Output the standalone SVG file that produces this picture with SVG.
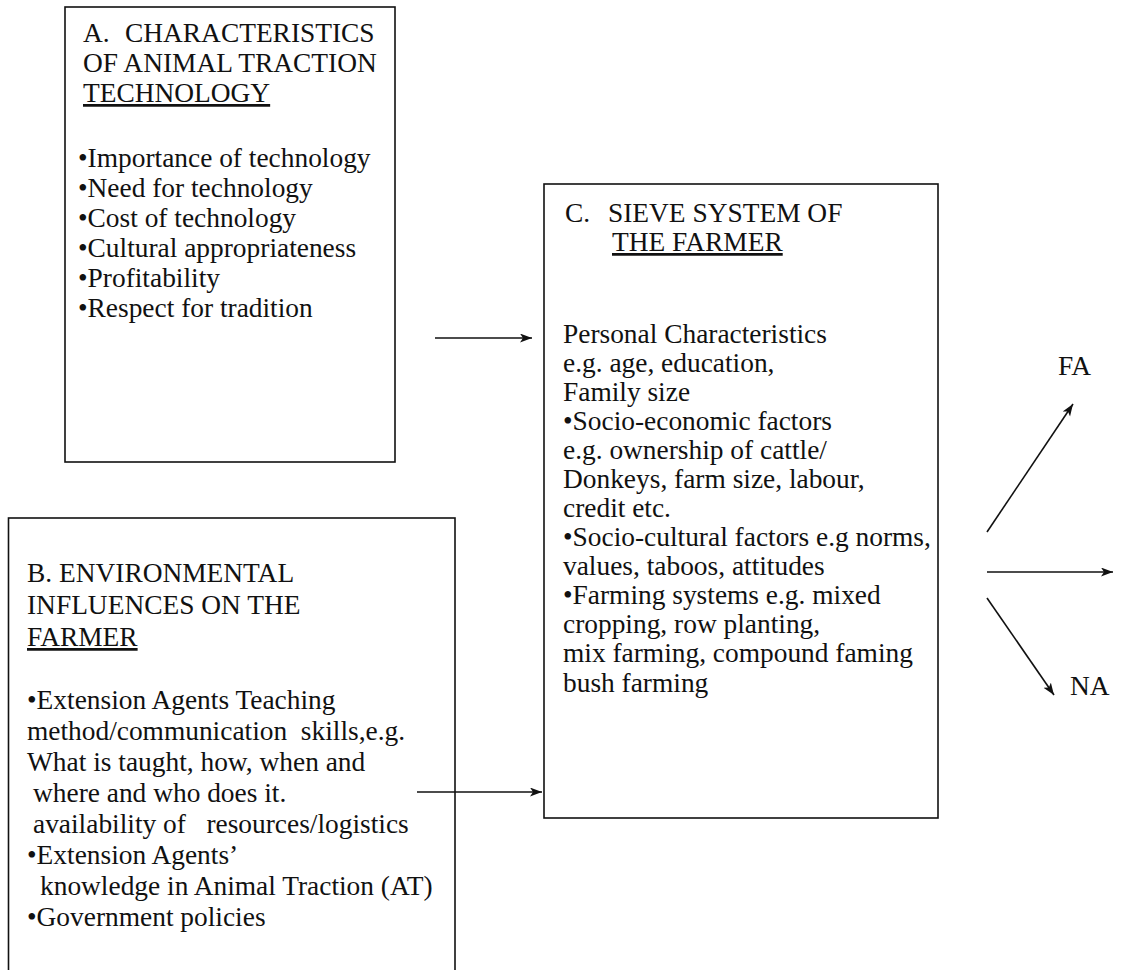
<svg xmlns="http://www.w3.org/2000/svg" width="1122" height="970" viewBox="0 0 1122 970">
<style>
text{font-family:"Liberation Serif","Times New Roman",serif;font-size:27.4px;fill:#111}
.box{fill:none;stroke:#111;stroke-width:1.6}
.conn{stroke:#111;stroke-width:1.6;fill:none}
.u{text-decoration:underline}
</style>
<defs>
<marker id="ah" markerUnits="userSpaceOnUse" markerWidth="14" markerHeight="10" refX="12" refY="4.5" orient="auto">
<path d="M0,0 L12,4.5 L0,9 L3,4.5 z" fill="#111"/>
</marker>
</defs>
<rect x="0" y="0" width="1122" height="970" fill="#fff"/>
<g id="nodeA">
<rect class="box" x="65" y="7" width="330" height="455"/>
<text x="83" y="42">A.<tspan x="125">CHARACTERISTICS</tspan></text>
<text x="83" y="72">OF ANIMAL TRACTION</text>
<text x="83" y="102" class="u">TECHNOLOGY</text>
<text x="78" y="167">•Importance of technology</text>
<text x="78" y="197">•Need for technology</text>
<text x="78" y="227">•Cost of technology</text>
<text x="78" y="257">•Cultural appropriateness</text>
<text x="78" y="287">•Profitability</text>
<text x="78" y="317">•Respect for tradition</text>
</g>
<g id="nodeB">
<rect class="box" x="8.5" y="518" width="446.5" height="470"/>
<text x="27" y="582">B. ENVIRONMENTAL</text>
<text x="27" y="614">INFLUENCES ON THE</text>
<text x="27" y="646" class="u">FARMER</text>
<text x="27" y="709">•Extension Agents Teaching</text>
<text x="27" y="740" xml:space="preserve">method/communication  skills,e.g.</text>
<text x="27" y="771">What is taught, how, when and</text>
<text x="33" y="802">where and who does it.</text>
<text x="33" y="833" xml:space="preserve">availability of   resources/logistics</text>
<text x="27" y="864">•Extension Agents’</text>
<text x="40" y="895">knowledge in Animal Traction (AT)</text>
<text x="27" y="926">•Government policies</text>
</g>
<g id="nodeC">
<rect class="box" x="544" y="184" width="394" height="634"/>
<text x="565" y="222">C.<tspan x="608">SIEVE SYSTEM OF</tspan></text>
<text x="612" y="251" class="u">THE FARMER</text>
<text x="563" y="343">Personal Characteristics</text>
<text x="563" y="372">e.g. age, education,</text>
<text x="563" y="401">Family size</text>
<text x="563" y="430">•Socio-economic factors</text>
<text x="563" y="459">e.g. ownership of cattle/</text>
<text x="563" y="488">Donkeys, farm size, labour,</text>
<text x="563" y="517">credit etc.</text>
<text x="563" y="546">•Socio-cultural factors e.g norms,</text>
<text x="563" y="575">values, taboos, attitudes</text>
<text x="563" y="604">•Farming systems e.g. mixed</text>
<text x="563" y="633">cropping, row planting,</text>
<text x="563" y="662">mix farming, compound faming</text>
<text x="563" y="692">bush farming</text>
</g>
<g id="nodeFA"><text x="1058" y="375">FA</text></g>
<g id="nodeNA"><text x="1070" y="695">NA</text></g>
<g id="connectors">
<line class="conn" x1="435" y1="338" x2="532" y2="338" marker-end="url(#ah)"/>
<line class="conn" x1="417" y1="792" x2="542" y2="792" marker-end="url(#ah)"/>
<line class="conn" x1="987" y1="532" x2="1073" y2="404" marker-end="url(#ah)"/>
<line class="conn" x1="987" y1="572" x2="1113" y2="572" marker-end="url(#ah)"/>
<line class="conn" x1="987" y1="598" x2="1054" y2="695" marker-end="url(#ah)"/>
</g>
</svg>
